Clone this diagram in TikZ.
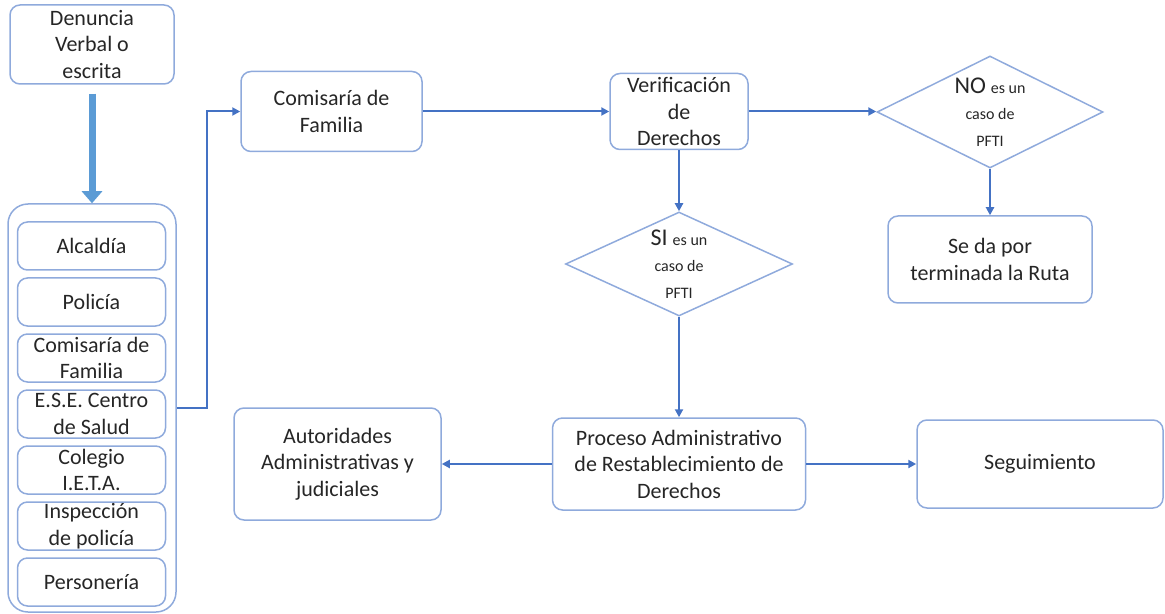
\documentclass[tikz,border=0pt]{standalone}
\usepackage{fontspec}
\setmainfont{Carlito}
\usetikzlibrary{shapes.geometric, arrows.meta}

\definecolor{borde}{HTML}{8FAADC}
\definecolor{linea}{HTML}{4472C4}
\definecolor{gruesa}{HTML}{5B9BD5}
\definecolor{texto}{HTML}{262626}

\begin{document}
\begin{tikzpicture}[x=0.5pt, y=-0.5pt]

\newlength{\px}
\setlength{\px}{0.5pt}

\useasboundingbox (0,0) rectangle (1165,614);

% styles
\pgfkeys{/tikz/every node/.style={text=texto, font=\fontsize{11}{13.25}\selectfont}} % base font
\pgfkeys{/caja/.style={draw=borde, line width=0.75pt, rounded corners=5pt, align=center, inner sep=0}} % boxes
\pgfkeys{/rombo/.style={draw=borde, line width=0.75pt, diamond, aspect=2.1, inner sep=0, align=center}} % decisions
\pgfkeys{/flecha/.style={draw=linea, line width=1pt, -{Triangle[length=4pt, width=4pt]}}} % connectors
\pgfkeys{/gruesa/.style={draw=gruesa, line width=3.5pt, -{Triangle[length=6pt, width=10pt]}}} % thick arrow
\newcommand{\chico}[0]{\fontsize{8}{13.25}\selectfont}
\newcommand{\grande}[0]{\fontsize{12}{13.25}\selectfont}

% left column
\node[/caja, minimum width=164\px, minimum height=79\px] (denuncia) at (92,44.5) {Denuncia\\Verbal o\\escrita};
\node[/caja, rounded corners=10pt, minimum width=168\px, minimum height=408\px] (entidades) at (92,408) {};
\foreach \n/\y/\txt in {alcaldia/246/Alcaldía, policia/302/Policía, comisaria1/358/Comisaría de\\Familia,
  ese/414/E.S.E. Centro\\de Salud, colegio/470/Colegio\\I.E.T.A., inspeccion/526/Inspección\\de policía,
  personeria/582/Personería} {
\node[/caja, minimum width=148\px, minimum height=48\px] (\n) at (91.5,\y) {\txt}; % entity
}

% top row
\node[/caja, minimum width=181\px, minimum height=80\px] (comisaria) at (331.5,111.5) {Comisaría de\\Familia};
\node[/caja, minimum width=138\px, minimum height=76\px] (verif) at (679,111.5) {Verificación\\de\\Derechos};
\node[/rombo, minimum width=226\px, minimum height=112\px] (no) at (990,112) {{\grande NO} {\chico es un}\\{\chico caso de}\\{\chico PFTI}};
\node[/caja, minimum width=204\px, minimum height=87\px] (seda) at (990,259.5) {Se da por\\terminada la Ruta};

% middle and bottom row
\node[/rombo, minimum width=227\px, minimum height=104\px] (si) at (679,264) {{\grande SI} {\chico es un}\\{\chico caso de}\\{\chico PFTI}};
\node[/caja, minimum width=253\px, minimum height=92\px] (proceso) at (679,464) {Proceso Administrativo\\de Restablecimiento de\\Derechos};
\node[/caja, minimum width=207\px, minimum height=112\px] (autoridades) at (337.5,464) {Autoridades\\Administrativas y\\judiciales};
\node[/caja, minimum width=246\px, minimum height=88\px] (seguimiento) at (1040,464) {Seguimiento};

% connectors
\draw[/gruesa] ([yshift=-9\px]denuncia.south) -- (entidades.north);
\draw[/flecha] (entidades.east) -- ++(30,0) |- (comisaria.west);
\draw[/flecha] (comisaria.east) -- (verif.west);
\draw[/flecha] (verif.east) -- (verif.east -| no.west);
\draw[/flecha] (no.south) -- (seda.north);
\draw[/flecha] (verif.south) -- (si.north);
\draw[/flecha] (si.south) -- (proceso.north);
\draw[/flecha] (proceso.west) -- (autoridades.east);
\draw[/flecha] (proceso.east) -- (seguimiento.west);

\end{tikzpicture}
\end{document}
